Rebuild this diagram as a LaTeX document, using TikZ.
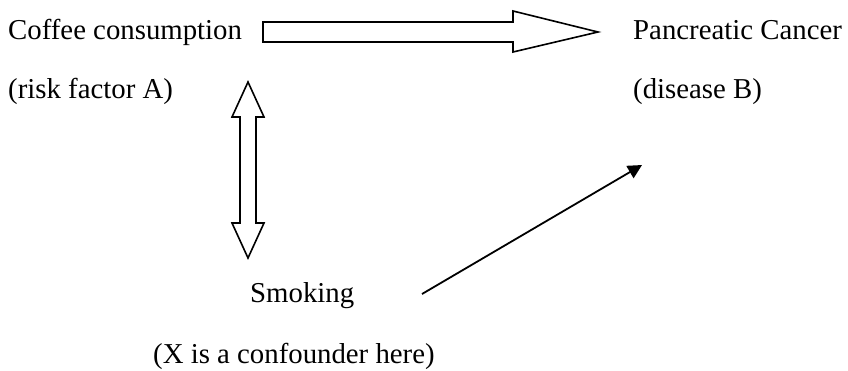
\documentclass[tikz,border=0pt]{standalone}
\usepackage{fontspec}
\setmainfont{Liberation Serif}
\usetikzlibrary{arrows.meta}
\begin{document}
\begin{tikzpicture}[x=1pt,y=-1pt,
  lbl/.style={anchor=base west,inner sep=0pt,font=\fontsize{28.8}{34}\selectfont},
  blockarrow/.style={draw=black,fill=white,line width=1.6pt,line join=miter},
  thinarrow/.style={draw=black,line width=1.8pt,-{Triangle[length=14pt,width=14pt]}}]
\useasboundingbox (0,0) rectangle (848,370);
% labels
\node[lbl] (coffee) at (8,39) {Coffee consumption};
\node[lbl] (riskA) at (8,98) {(risk factor A)};
\node[lbl] (cancer) at (633,39) {Pancreatic Cancer};
\node[lbl] (disB) at (633,98) {(disease B)};
\node[lbl] (smoking) at (250,302) {Smoking};
\node[lbl] (confounder) at (153,363) {(X is a confounder here)};
% horizontal block arrow
\draw[blockarrow] (263,22) -- (513,22) -- (513,11) -- (598,32) -- (513,52) -- (513,42) -- (263,42) -- cycle;
% vertical double block arrow
\draw[blockarrow] (248,82) -- (264,117) -- (256,117) -- (256,223) -- (264,223) -- (248,258)
  -- (232,223) -- (240,223) -- (240,117) -- (232,117) -- cycle;
% diagonal arrow
\coordinate (dstart) at (422,294);
\coordinate (dend) at (642,165);
\draw[thinarrow] (dstart) -- (dend);
\end{tikzpicture}
\end{document}
